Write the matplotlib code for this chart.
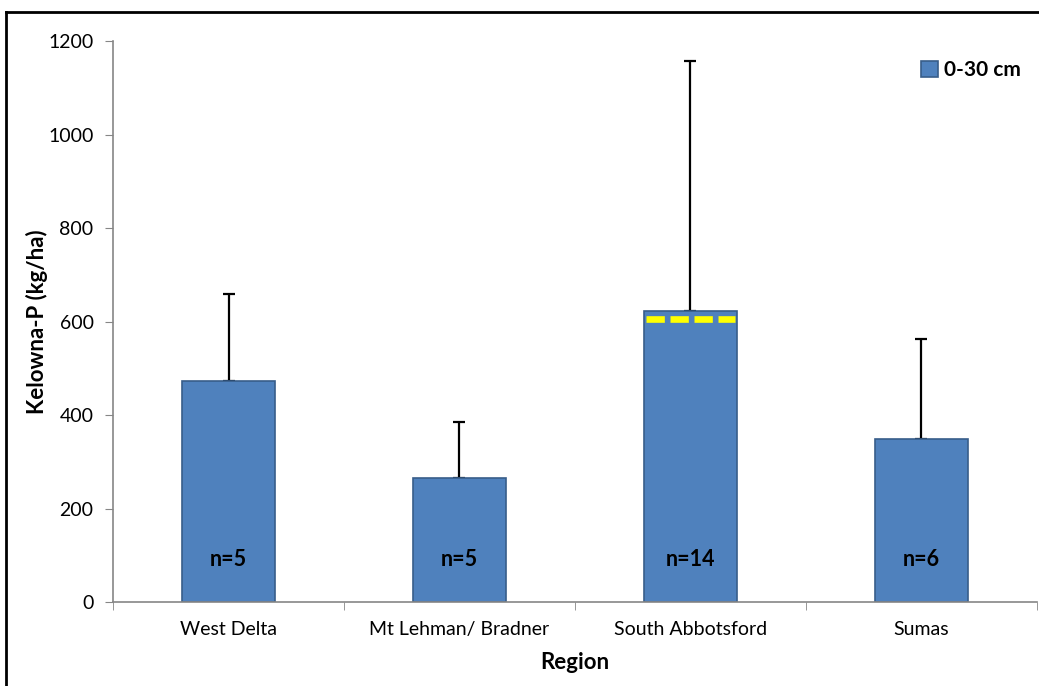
import matplotlib.pyplot as plt
from matplotlib.lines import Line2D

plt.rcParams['font.family'] = ['Lato', 'DejaVu Sans']

# data
regions = ['West Delta', 'Mt Lehman/ Bradner', 'South Abbotsford', 'Sumas']
means = [472, 265, 622, 349]
err_top = [659, 385, 1157, 563]
n_labels = ['n=5', 'n=5', 'n=14', 'n=6']
median_sa = 606  # yellow dashed line in South Abbotsford bar

yerr_up = [t - m for t, m in zip(err_top, means)]
x = list(range(len(regions)))

fig = plt.figure(figsize=(10.39, 6.86), dpi=100)
ax = fig.add_axes([0.1088, 0.1224, 0.8892, 0.8176])

ax.bar(x, means, width=0.4, color='#4F81BD', edgecolor='#385D8A', linewidth=1.2,
       label='0-30 cm', zorder=2)
ax.errorbar(x, means, yerr=[[0] * len(x), yerr_up], fmt='none', ecolor='black',
            elinewidth=1.6, capsize=4.5, capthick=1.6, zorder=1)

# yellow dashed line on South Abbotsford
i = regions.index('South Abbotsford')
ax.plot([i - 0.192, i + 0.192], [median_sa, median_sa], color='#FFFF00',
        linewidth=4.8, linestyle=(0, (2.75, 0.85)), zorder=3)

for xi, lab in zip(x, n_labels):
    ax.text(xi, 91, lab, ha='center', va='center', fontsize=15.5, fontweight='bold', zorder=4)

ax.set_xlim(-0.5, len(regions) - 0.5)
ax.set_ylim(0, 1200)
ax.set_yticks(range(0, 1201, 200))
ax.set_xticks(x)
ax.set_xticklabels(regions)
ax.set_xticks([v - 0.5 for v in range(len(regions) + 1)], minor=True)
ax.tick_params(axis='x', which='major', length=0, pad=14, labelsize=14)
ax.tick_params(axis='x', which='minor', length=6, color='#868686', direction='out')
ax.tick_params(axis='y', length=6, color='#868686', labelsize=14, pad=8)

for side in ['top', 'right']:
    ax.spines[side].set_visible(False)
for side in ['left', 'bottom']:
    ax.spines[side].set_color('#868686')
    ax.spines[side].set_linewidth(1.2)

ax.set_xlabel('Region', fontsize=16, fontweight='bold', labelpad=10)
ax.set_ylabel('Kelowna-P (kg/ha)', fontsize=16, fontweight='bold', labelpad=0)

leg = ax.legend(loc='upper right', bbox_to_anchor=(1.003, 1.0), frameon=False,
                prop={'weight': 'bold', 'size': 15}, handlelength=0.8, handleheight=0.8,
                handletextpad=0.3)

# outer black frame
fig.add_artist(Line2D([6 / 1039, 6 / 1039], [0, 1 - 12 / 686], color='black', linewidth=2))
fig.add_artist(Line2D([6 / 1039, 1], [1 - 12 / 686, 1 - 12 / 686], color='black', linewidth=2))

fig.savefig('out.png', dpi=100)
